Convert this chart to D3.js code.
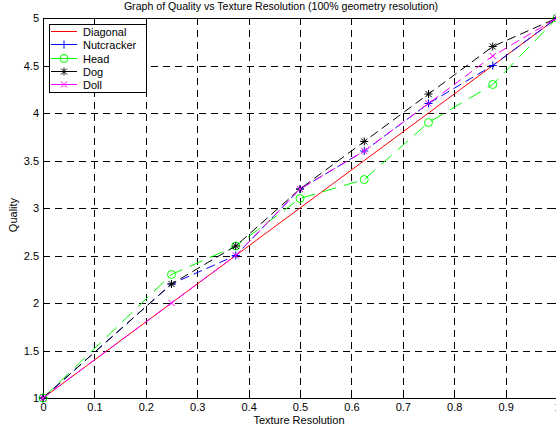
<!DOCTYPE html>
<html>
  <head>
    <meta charset="utf-8" />
    <script src="https://d3js.org/d3.v7.min.js"></script>
    <style>
      body { margin: 0; background: #fff; }
      text { font-family: "Liberation Sans", Arial, sans-serif; font-size: 11px; fill: #000; }
      .grid line { stroke: #000; stroke-width: 1px; stroke-dasharray: 7,5; shape-rendering: crispEdges; }
      .axis path, .axis line { stroke: #000; shape-rendering: crispEdges; }
    </style>
  </head>
  <body>
    <svg id="chart" width="556" height="430"></svg>
  <script>

  var xValues = [0, 0.25, 0.375, 0.5, 0.625, 0.75, 0.875, 1];
  var diagonal = [1, 2, 2.5, 3, 3.5, 4, 4.5, 5];
  var nutcracker = [1, 2.2, 2.5, 3.2, 3.6, 4.1, 4.5, 5];
  var head = [1, 2.3, 2.6, 3.1, 3.3, 3.9, 4.3, 5];
  var dog = [1, 2.2, 2.6, 3.2, 3.7, 4.2, 4.7, 5];
  var doll = [1, 2.0, 2.5, 3.2, 3.6, 4.1, 4.6, 5];

  var xTicks = [0, 0.1, 0.2, 0.3, 0.4, 0.5, 0.6, 0.7, 0.8, 0.9, 1];
  var yTicks = [1, 1.5, 2, 2.5, 3, 3.5, 4, 4.5, 5];

  var series = [
    { name: "Diagonal", values: diagonal, color: "#ff0000", marker: "none", dash: null },
    { name: "Nutcracker", values: nutcracker, color: "#0000ff", marker: "plus", dash: "9,5" },
    { name: "Head", values: head, color: "#00ff00", marker: "circle", dash: "14,8" },
    { name: "Dog", values: dog, color: "#000000", marker: "star", dash: "9,5" },
    { name: "Doll", values: doll, color: "#ff00ff", marker: "cross", dash: "9,5" }
  ];

  (function() {
  var svg = d3.select("#chart");
  var pLeft = 43, pTop = 18, pRight = 557, pBottom = 398;

  var x = d3.scaleLinear().domain([0, 1]).range([pLeft, pRight]);
  var y = d3.scaleLinear().domain([1, 5]).range([pBottom, pTop]);

  // grid
  var grid = svg.append("g").attr("class", "grid");
  grid.selectAll(".vx").data(xTicks.slice(1, -1)).enter().append("line")
    .attr("x1", function(d) { return Math.round(x(d)) + 0.5; })
    .attr("x2", function(d) { return Math.round(x(d)) + 0.5; })
    .attr("y1", pTop).attr("y2", pBottom);
  grid.selectAll(".hy").data(yTicks.slice(1, -1)).enter().append("line")
    .attr("y1", function(d) { return Math.round(y(d)) + 0.5; })
    .attr("y2", function(d) { return Math.round(y(d)) + 0.5; })
    .attr("x1", pLeft).attr("x2", pRight);

  // axes, ticks inside
  var fmt = function(d) { return String(d); };
  svg.append("g").attr("class", "axis")
    .attr("transform", "translate(0," + pBottom + ")")
    .call(d3.axisBottom(x).tickValues(xTicks).tickFormat(fmt).tickSizeInner(-5).tickSizeOuter(0).tickPadding(5));
  svg.append("g").attr("class", "axis")
    .attr("transform", "translate(0," + pTop + ")")
    .call(d3.axisTop(x).tickValues(xTicks).tickFormat("").tickSizeInner(-5).tickSizeOuter(0));
  svg.append("g").attr("class", "axis")
    .attr("transform", "translate(" + pLeft + ",0)")
    .call(d3.axisLeft(y).tickValues(yTicks).tickFormat(fmt).tickSizeInner(-5).tickSizeOuter(0).tickPadding(4));
  svg.append("g").attr("class", "axis")
    .attr("transform", "translate(" + pRight + ",0)")
    .call(d3.axisRight(y).tickValues(yTicks).tickFormat("").tickSizeInner(-5).tickSizeOuter(0));
  svg.selectAll(".axis text").style("font-size", "11px").style("font-family", "Liberation Sans, Arial, sans-serif");
  svg.selectAll(".axis .domain").attr("stroke", "#000");

  // markers
  function drawMarker(g, type, cx, cy, color) {
    var s = 4;
    if (type === "plus" || type === "star") {
      g.append("line").attr("x1", cx - s).attr("x2", cx + s).attr("y1", cy).attr("y2", cy).style("stroke", color);
      g.append("line").attr("x1", cx).attr("x2", cx).attr("y1", cy - s).attr("y2", cy + s).style("stroke", color);
    }
    if (type === "cross" || type === "star") {
      var t = 3;
      g.append("line").attr("x1", cx - t).attr("x2", cx + t).attr("y1", cy - t).attr("y2", cy + t).style("stroke", color);
      g.append("line").attr("x1", cx - t).attr("x2", cx + t).attr("y1", cy + t).attr("y2", cy - t).style("stroke", color);
    }
    if (type === "circle") {
      g.append("circle").attr("cx", cx).attr("cy", cy).attr("r", 4).attr("fill", "none").style("stroke", color);
    }
  }

  var line = d3.line()
    .x(function(d, i) { return x(xValues[i]); })
    .y(function(d) { return y(d); });

  series.forEach(function(s) {
    var g = svg.append("g");
    g.append("path").datum(s.values)
      .attr("d", line)
      .attr("fill", "none")
      .style("stroke", s.color)
      .attr("stroke-width", 1)
      .attr("stroke-dasharray", s.dash);
    if (s.marker !== "none") {
      s.values.forEach(function(v, i) {
        drawMarker(g, s.marker, x(xValues[i]), y(v), s.color);
      });
    }
  });

  // legend
  var lg = svg.append("g");
  lg.append("rect").attr("x", 49.5).attr("y", 24.5).attr("width", 97).attr("height", 68)
    .attr("fill", "#fff").attr("stroke", "#000");
  series.forEach(function(s, i) {
    var ly = Math.round(31 + i * 13.3) + 0.5;
    lg.append("line").attr("x1", 51).attr("x2", 77).attr("y1", ly).attr("y2", ly)
      .style("stroke", s.color).style("stroke-width", 1);
    if (s.marker !== "none") drawMarker(lg, s.marker, 64, ly, s.color);
    lg.append("text").attr("x", 83).attr("y", ly + 4).text(s.name);
  });

  // titles
  svg.append("text").attr("x", 281).attr("y", 10).attr("text-anchor", "middle")
    .style("font-size", "10.6px")
    .text("Graph of Quality vs Texture Resolution (100% geometry resolution)");
  svg.append("text").attr("x", 299).attr("y", 424).attr("text-anchor", "middle")
    .text("Texture Resolution");
  svg.append("text").attr("transform", "translate(17,215) rotate(-90)").attr("text-anchor", "middle")
    .text("Quality");
  })();

  </script>
  </body>
</html>
